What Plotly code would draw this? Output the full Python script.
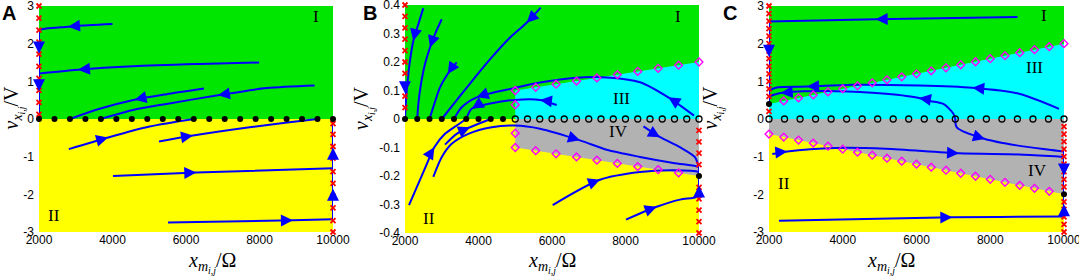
import math
import plotly.graph_objects as go

W, H = 1079, 277
X_RANGE = [2000, 10000]
V_RANGE_A = [-3, 3]
V_RANGE_B = [-0.4, 0.4]
V_RANGE_C = [-3, 3]

GREEN = "rgb(0,230,0)"
YELLOW = "rgb(255,255,0)"
CYAN = "rgb(0,255,255)"
GRAY = "rgb(178,178,178)"
BLUE = "rgb(0,0,255)"
RED = "rgb(255,0,0)"
MAG = "rgb(255,0,255)"

# ---------------- separatrix boundaries ----------------
B_sep_x = [5000, 10000]
B_sep_up = [0.1, 0.2]
B_sep_dn = [-0.1, -0.2]
C_sep_x = [2000, 10000]
C_sep_up = [0.4, 2.0]
C_sep_dn = [-0.4, -2.0]

# ---------------- equilibria on v = 0 ----------------
A_eq_x = [2000, 2421, 2842, 3263, 3684, 4105, 4526, 4947, 5368, 5789, 6211,
          6632, 7053, 7474, 7895, 8316, 8737, 9158, 9579, 10000]
B_eq_filled_x = [2000, 2333, 2667, 3000, 3333, 3667, 4000, 4333, 4667]
B_eq_open_x = [5000, 5333, 5667, 6000, 6333, 6667, 7000, 7333, 7667, 8000,
               8333, 8667, 9000, 9333, 9667, 10000]
C_eq_open_x = [2000, 2421, 2842, 3263, 3684, 4105, 4526, 4947, 5368, 5789, 6211,
               6632, 7053, 7474, 7895, 8316, 8737, 9158, 9579, 10000]

# ---------------- edge markers (red x) ----------------
A_red_left_v = [3.0, 2.68, 2.36, 2.04, 1.72, 1.40, 1.08, 0.76, 0.44, 0.12]
A_red_right_v = [-0.12, -0.41, -0.73, -1.04, -1.40, -1.71, -2.05, -2.36, -2.70, -3.0]
B_red_left_v = [0.04, 0.08, 0.12, 0.16, 0.20, 0.24, 0.28, 0.32, 0.36, 0.40]
B_red_right_v = [-0.04, -0.08, -0.12, -0.16, -0.24, -0.28, -0.32, -0.36, -0.40]
C_red_left_v = [3.0, 2.8, 2.6, 2.4, 2.2, 2.0, 1.8, 1.6, 1.4, 1.2, 1.0, 0.8, 0.6, 0.2]
C_red_right_v = [-0.2, -0.4, -0.6, -0.8, -1.0, -1.2, -1.4, -1.6, -1.8,
                 -2.2, -2.4, -2.6, -2.8, -3.0]

# ---------------- boundary markers (magenta diamonds) ----------------
B_dia_up_x = [5000, 5000, 5556, 6111, 6667, 7222, 7778, 8333, 8889, 9444, 10000]
B_dia_up_v = [0.05, 0.1, 0.111, 0.122, 0.133, 0.144, 0.156, 0.167, 0.178, 0.189, 0.2]
B_dia_dn_x = [5000, 5000, 5556, 6111, 6667, 7222, 7778, 8333, 8889, 9444]
B_dia_dn_v = [-0.05, -0.1, -0.111, -0.122, -0.133, -0.144, -0.156, -0.167, -0.178, -0.189]
C_dia_up_x = [2400, 2800, 3200, 3600, 4000, 4400, 4800, 5200, 5600, 6000,
              6400, 6800, 7200, 7600, 8000, 8400, 8800, 9200, 9600, 10000]
C_dia_up_v = [0.48, 0.56, 0.64, 0.72, 0.80, 0.88, 0.96, 1.04, 1.12, 1.20,
              1.28, 1.36, 1.44, 1.52, 1.60, 1.68, 1.76, 1.84, 1.92, 2.00]
C_dia_dn_x = [2000, 2400, 2800, 3200, 3600, 4000, 4400, 4800, 5200, 5600,
              6000, 6400, 6800, 7200, 7600, 8000, 8400, 8800, 9200, 9600]
C_dia_dn_v = [-0.40, -0.48, -0.56, -0.64, -0.72, -0.80, -0.88, -0.96, -1.04, -1.12,
              -1.20, -1.28, -1.36, -1.44, -1.52, -1.60, -1.68, -1.76, -1.84, -1.92]

# other stable points (black)
B_stable_x = [10000]
B_stable_v = [-0.2]
C_stable_x = [2000, 10000]
C_stable_v = [0.4, -2.0]

# ---------------- trajectories: (x list, v list, arrow indices) ----------------
A_traj = [
    ([4000, 3000, 2790, 2200, 2000], [2.52, 2.47, 2.45, 2.40, 2.37], [2]),
    ([2000, 2000, 2000, 2000], [2.37, 1.74, 0.74, 0.0], [1, 2]),
    ([7990, 6370, 4560, 3060, 2000], [1.50, 1.46, 1.40, 1.31, 1.21], [3]),
    ([6490, 5470, 4600, 3650, 2842], [0.81, 0.66, 0.51, 0.27, 0.0], [2]),
    ([9500, 8190, 6870, 5470, 4560, 3684], [0.89, 0.82, 0.63, 0.40, 0.24, 0.0], [2]),
    ([2810, 3880, 5010, 6211], [-0.80, -0.49, -0.20, 0.0], [1]),
    ([5265, 6190, 7730, 8700, 9579], [-0.60, -0.44, -0.22, -0.10, 0.0], [1]),
    ([4015, 6280, 10000], [-1.51, -1.42, -1.31], [1]),
    ([5510, 8910, 10000], [-2.75, -2.69, -2.66], [1]),
    ([10000, 10000, 10000, 10000], [-2.66, -1.85, -0.76, 0.0], [1, 2]),
]

B_traj = [
    ([2000, 2000, 2000], [0.13, 0.09, 0.0], [1]),
    ([2498, 2363, 2226, 2136, 2073, 2027, 2000],
     [0.389, 0.333, 0.274, 0.205, 0.135, 0.065, 0.0], [2]),
    ([2999, 2817, 2680, 2544, 2435, 2363, 2333],
     [0.350, 0.298, 0.251, 0.193, 0.123, 0.053, 0.0], [2]),
    ([3406, 3161, 2952, 2798, 2667], [0.199, 0.158, 0.111, 0.053, 0.0], [1]),
    ([5692, 5311, 4811, 4358, 3905, 3542, 3224, 3000],
     [0.391, 0.338, 0.280, 0.216, 0.146, 0.088, 0.036, 0.0], [1]),
    ([9864, 9165, 8395, 7488, 6580, 5673, 4993, 3951, 3542, 3333],
     [0.012, 0.076, 0.129, 0.146, 0.144, 0.128, 0.109, 0.076, 0.041, 0.0], [1, 7]),
    ([6127, 5673, 4993, 4358, 3815, 3667], [0.049, 0.067, 0.067, 0.055, 0.036, 0.0], [1, 4]),
    ([2109, 2363, 2635, 2798, 3088, 3406, 3667],
     [-0.302, -0.227, -0.145, -0.099, -0.052, -0.023, 0.0], [3]),
    ([3088, 3406, 3769, 4333], [-0.090, -0.052, -0.029, 0.0], [2]),
    ([2771, 2998, 3270, 3724, 4358, 4993, 5673, 6762, 7488, 8395, 9301, 9937, 10000],
     [-0.203, -0.134, -0.087, -0.052, -0.029, -0.023, -0.034, -0.075, -0.108,
      -0.133, -0.154, -0.166, -0.170], [7]),
    ([8489, 8942, 9482, 9891, 9981, 10000], [-0.026, -0.064, -0.099, -0.134, -0.163, -0.170], [1]),
    ([6019, 7306, 8395, 9301, 9981, 10000], [-0.302, -0.213, -0.186, -0.180, -0.186, -0.19], [1]),
    ([8013, 8848, 9482, 9937, 10000], [-0.353, -0.308, -0.283, -0.273, -0.262], [1]),
    ([10000, 10000, 10000], [-0.262, -0.233, -0.205], [1]),
    ([10000, 10000], [-0.166, -0.2], []),
]

C_traj = [
    ([8740, 4893, 2000], [2.71, 2.65, 2.59], [1]),
    ([2000, 2000, 2000], [2.59, 1.65, 0.4], [1]),
    ([9865, 8780, 7513, 6068, 4259, 3031, 2182, 2000],
     [0.27, 0.67, 0.83, 0.89, 0.91, 0.86, 0.83, 0.74], [2, 5]),
    ([7053, 7000, 6729, 6277, 6068, 5165, 3811, 2317, 2000],
     [0.0, 0.14, 0.40, 0.49, 0.56, 0.67, 0.74, 0.69, 0.60], [4, 7]),
    ([7053, 7093, 7858, 8718, 9983, 10000], [0.0, -0.22, -0.53, -0.70, -0.86, -0.86], [2]),
    ([2090, 2497, 3811, 5165, 7153, 8780, 9955, 10000],
     [-0.93, -0.86, -0.77, -0.79, -0.91, -0.94, -1.0, -1.0], [1, 4]),
    ([2271, 6971, 9955, 10000], [-2.70, -2.61, -2.59, -2.59], [1]),
    ([10000, 10000, 10000], [-2.59, -2.26, -2.0], [1]),
    ([10000, 10000, 10000], [-0.86, -1.5, -2.0], [1]),
]

# region labels
A_labels = [("I", 9550, 2.72), ("II", 2400, -2.55)]
B_labels = [("I", 9440, 0.36), ("III", 7900, 0.072), ("IV", 7800, -0.043), ("II", 2640, -0.35)]
C_labels = [("I", 9460, 2.75), ("III", 9190, 1.38), ("IV", 9270, -1.37), ("II", 2400, -1.71)]

X_TICKS = [2000, 4000, 6000, 8000, 10000]
X_TICKTEXT = ["2000", "4000", "6000", "8000", "10000"]
V_TICKS_AC = [-3, -2, -1, 0, 1, 2, 3]
V_TICKTEXT_AC = ["-3", "-2", "-1", "0", "1", "2", "3"]
V_TICKS_B = [-0.4, -0.3, -0.2, -0.1, 0, 0.1, 0.2, 0.3, 0.4]
V_TICKTEXT_B = ["-0.4", "-0.3", "-0.2", "-0.1", "0", "0.1", "0.2", "0.3", "0.4"]

# ---------------- layout geometry (pixels) ----------------
x_dom_px = [(39, 333), (405, 699), (769, 1064)]
y_dom_px = [(6, 232), (5, 233), (6, 232)]
AXES = ["", "2", "3"]
V_RANGES = [V_RANGE_A, V_RANGE_B, V_RANGE_C]

fig = go.Figure()


def poly(xs, vs, color, ax):
    fig.add_trace(go.Scatter(x=xs + [xs[0]], y=vs + [vs[0]], fill="toself", fillcolor=color,
                             mode="lines", line=dict(width=0, color=color), hoverinfo="skip",
                             showlegend=False, xaxis="x" + ax, yaxis="y" + ax))


def regions(ax, vr, sep_x=None, up=None, dn=None):
    x0, x1 = X_RANGE
    poly([x0, x1, x1, x0], [0, 0, vr[1], vr[1]], GREEN, ax)
    poly([x0, x1, x1, x0], [0, 0, vr[0], vr[0]], YELLOW, ax)
    if sep_x is not None:
        poly([sep_x[0], sep_x[1], sep_x[1], sep_x[0]], [0, 0, up[1], up[0]], CYAN, ax)
        poly([sep_x[0], sep_x[1], sep_x[1], sep_x[0]], [0, 0, dn[1], dn[0]], GRAY, ax)


regions("", V_RANGE_A)
regions("2", V_RANGE_B, B_sep_x, B_sep_up, B_sep_dn)
regions("3", V_RANGE_C, C_sep_x, C_sep_up, C_sep_dn)

annotations = []


def trajectories(trajs, k):
    ax = AXES[k]
    xr, yr = "x" + ax, "y" + ax
    l, r = x_dom_px[k]
    t, b = y_dom_px[k]
    vr = V_RANGES[k]
    pxx = (r - l) / (X_RANGE[1] - X_RANGE[0])
    pxv = (b - t) / (vr[1] - vr[0])
    for xs, vs, arrows in trajs:
        fig.add_trace(go.Scatter(x=xs, y=vs, mode="lines",
                                 line=dict(color=BLUE, width=2, shape="spline", smoothing=0.8),
                                 cliponaxis=False, hoverinfo="skip", showlegend=False,
                                 xaxis=xr, yaxis=yr))
        for i in arrows:
            j0 = max(i - 1, 0)
            j1 = min(i + 1, len(xs) - 1)
            dxp = (xs[j1] - xs[j0]) * pxx
            dyp = -(vs[j1] - vs[j0]) * pxv
            n = math.hypot(dxp, dyp)
            ux, uy = dxp / n, dyp / n
            L = 10
            annotations.append(dict(
                x=xs[i], y=vs[i], ax=-ux * L, ay=-uy * L,
                xref=xr, yref=yr, text="", showarrow=True,
                arrowhead=2, arrowsize=1.5, arrowwidth=1.6, arrowcolor=BLUE, standoff=0))


trajectories(A_traj, 0)
trajectories(B_traj, 1)
trajectories(C_traj, 2)


def markers(xs, vs, ax, symbol, color, size, lw=1.0):
    fig.add_trace(go.Scatter(x=xs, y=vs, mode="markers", cliponaxis=False,
                             marker=dict(symbol=symbol, size=size, color=color,
                                         line=dict(color=color, width=lw)),
                             hoverinfo="skip", showlegend=False,
                             xaxis="x" + ax, yaxis="y" + ax))


# A
markers([X_RANGE[0]] * len(A_red_left_v), A_red_left_v, "", "x-thin", RED, 5, 1.8)
markers([X_RANGE[1]] * len(A_red_right_v), A_red_right_v, "", "x-thin", RED, 5, 1.8)
markers(A_eq_x, [0] * len(A_eq_x), "", "circle", "black", 6, 0)
# B
markers([X_RANGE[0]] * len(B_red_left_v), B_red_left_v, "2", "x-thin", RED, 5, 1.8)
markers([X_RANGE[1]] * len(B_red_right_v), B_red_right_v, "2", "x-thin", RED, 5, 1.8)
markers(B_dia_up_x, B_dia_up_v, "2", "diamond-open", MAG, 6, 1.4)
markers(B_dia_dn_x, B_dia_dn_v, "2", "diamond-open", MAG, 6, 1.4)
markers(B_eq_filled_x, [0] * len(B_eq_filled_x), "2", "circle", "black", 6, 0)
markers(B_eq_open_x, [0] * len(B_eq_open_x), "2", "circle-open", "black", 6, 1.3)
markers(B_stable_x, B_stable_v, "2", "circle", "black", 6, 0)
# C
markers([X_RANGE[0]] * len(C_red_left_v), C_red_left_v, "3", "x-thin", RED, 5, 1.8)
markers([X_RANGE[1]] * len(C_red_right_v), C_red_right_v, "3", "x-thin", RED, 5, 1.8)
markers(C_dia_up_x, C_dia_up_v, "3", "diamond-open", MAG, 6, 1.4)
markers(C_dia_dn_x, C_dia_dn_v, "3", "diamond-open", MAG, 6, 1.4)
markers(C_eq_open_x, [0] * len(C_eq_open_x), "3", "circle-open", "black", 6, 1.3)
markers(C_stable_x, C_stable_v, "3", "circle", "black", 6, 0)

SERIF = "Liberation Serif, DejaVu Serif, serif"
SANS = "Liberation Sans, Arial, sans-serif"

for labels, ax in [(A_labels, ""), (B_labels, "2"), (C_labels, "3")]:
    for t, x, v in labels:
        annotations.append(dict(x=x, y=v, xref="x" + ax, yref="y" + ax, text=t, showarrow=False,
                                font=dict(family=SERIF, size=17, color="black")))

XT = "<i>x</i><sub><i>m</i><sub><i>i,j</i></sub></sub>/Ω"
YT = "<i>v</i><sub><i>x</i><sub><i>i,j</i></sub></sub>/V"
LETTER_X = [0, 361, 721]
for k, letter in enumerate(["A", "B", "C"]):
    l, r = x_dom_px[k]
    annotations.append(dict(x=(l + r) / 2 / W, y=1 - 278 / H, xref="paper", yref="paper",
                            text=XT, showarrow=False, font=dict(family=SERIF, size=20, color="black")))
    annotations.append(dict(x=(l - 42) / W, y=1 - 108 / H, xref="paper", yref="paper",
                            text=YT, showarrow=False, textangle=-90,
                            font=dict(family=SERIF, size=20, color="black")))
    annotations.append(dict(x=LETTER_X[k] / W, y=1, xref="paper", yref="paper",
                            xanchor="left", yanchor="top", text="<b>%s</b>" % letter,
                            showarrow=False, font=dict(family=SANS, size=20, color="black")))

layout = dict(width=W, height=H, margin=dict(l=0, r=0, t=0, b=0),
              plot_bgcolor="white", paper_bgcolor="white", annotations=annotations,
              showlegend=False)

for k, ax in enumerate(AXES):
    l, r = x_dom_px[k]
    t, b = y_dom_px[k]
    vt, vtt = (V_TICKS_B, V_TICKTEXT_B) if ax == "2" else (V_TICKS_AC, V_TICKTEXT_AC)
    layout["xaxis" + ax] = dict(domain=[l / W, r / W], range=X_RANGE, anchor="y" + ax,
                                showgrid=False, zeroline=False, showline=False, ticks="",
                                tickvals=X_TICKS, ticktext=X_TICKTEXT, ticklabelstandoff=-1,
                                ticklabeloverflow="allow",
                                tickfont=dict(family=SANS, size=12, color="black"),
                                automargin=False)
    layout["yaxis" + ax] = dict(domain=[1 - b / H, 1 - t / H], range=V_RANGES[k],
                                anchor="x" + ax, showgrid=False, zeroline=False, showline=False,
                                ticks="", tickvals=vt, ticktext=vtt, ticklabelstandoff=4,
                                ticklabeloverflow="allow",
                                tickfont=dict(family=SANS, size=12, color="black"),
                                automargin=False)

fig.update_layout(**layout)
fig.write_html("out.html", config={"displayModeBar": False},
               post_script="document.body.style.margin='0px';")
